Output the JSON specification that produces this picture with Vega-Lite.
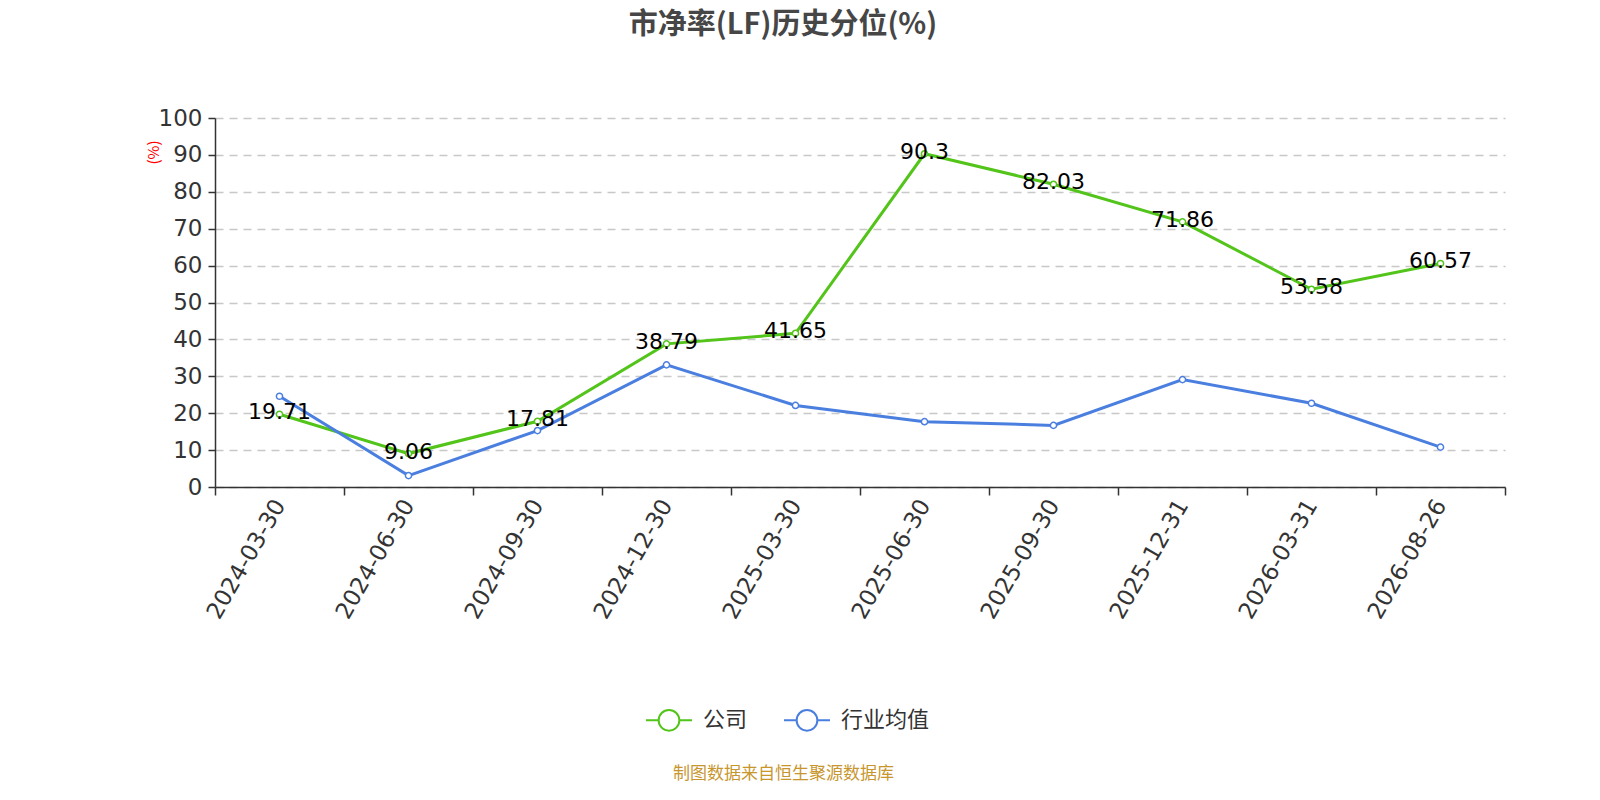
{
  "$schema": "https://vega.github.io/schema/vega-lite/v6.json",
  "autosize": "none",
  "width": 1290,
  "height": 369,
  "padding": {"left": 215, "top": 118, "right": 95, "bottom": 313},
  "background": "white",
  "config": {
    "font": "Noto Sans CJK SC",
    "view": {"stroke": null}
  },
  "title": {
    "text": "市净率(LF)历史分位(%)",
    "fontSize": 29,
    "fontWeight": "bold",
    "color": "#464646",
    "anchor": "middle",
    "frame": "group",
    "dx": -77,
    "offset": 67
  },
  "data": {
    "values": [
      {"date": "2024-03-30", "series": "公司", "value": 19.71},
      {"date": "2024-06-30", "series": "公司", "value": 9.06},
      {"date": "2024-09-30", "series": "公司", "value": 17.81},
      {"date": "2024-12-30", "series": "公司", "value": 38.79},
      {"date": "2025-03-30", "series": "公司", "value": 41.65},
      {"date": "2025-06-30", "series": "公司", "value": 90.3},
      {"date": "2025-09-30", "series": "公司", "value": 82.03},
      {"date": "2025-12-31", "series": "公司", "value": 71.86},
      {"date": "2026-03-31", "series": "公司", "value": 53.58},
      {"date": "2026-08-26", "series": "公司", "value": 60.57},
      {"date": "2024-03-30", "series": "行业均值", "value": 24.6},
      {"date": "2024-06-30", "series": "行业均值", "value": 3.1},
      {"date": "2024-09-30", "series": "行业均值", "value": 15.3},
      {"date": "2024-12-30", "series": "行业均值", "value": 33.1},
      {"date": "2025-03-30", "series": "行业均值", "value": 22.1},
      {"date": "2025-06-30", "series": "行业均值", "value": 17.7},
      {"date": "2025-09-30", "series": "行业均值", "value": 16.7},
      {"date": "2025-12-31", "series": "行业均值", "value": 29.1},
      {"date": "2026-03-31", "series": "行业均值", "value": 22.7},
      {"date": "2026-08-26", "series": "行业均值", "value": 10.8}
    ]
  },
  "encoding": {
    "x": {
      "field": "date",
      "type": "nominal",
      "sort": null,
      "bandPosition": 0.5,
      "scale": {"type": "band", "paddingInner": 0, "paddingOuter": 0},
      "axis": {
        "tickBand": "extent",
        "labelAngle": -60,
        "labelAlign": "right",
        "labelBaseline": "middle",
        "labelFontSize": 23,
        "labelColor": "#333333",
        "labelPadding": 6,
        "labelFont": "DejaVu Sans",
        "domainColor": "#333333",
        "domainWidth": 1.5,
        "tickColor": "#333333",
        "tickSize": 8,
        "tickWidth": 1.5,
        "grid": false,
        "title": "制图数据来自恒生聚源数据库",
        "titleX": 568,
        "titleY": 286,
        "titleAlign": "center",
        "titleBaseline": "middle",
        "titleAnchor": null,
        "titleColor": "#c8962e",
        "titleFontSize": 17,
        "titleFontWeight": "normal"
      }
    },
    "y": {
      "field": "value",
      "type": "quantitative",
      "scale": {"domain": [0, 100], "nice": false},
      "axis": {
        "values": [0, 10, 20, 30, 40, 50, 60, 70, 80, 90, 100],
        "labelFontSize": 23,
        "labelColor": "#333333",
        "labelFont": "DejaVu Sans",
        "labelPadding": 6,
        "domainColor": "#333333",
        "domainWidth": 1.5,
        "tickColor": "#333333",
        "tickSize": 7,
        "tickWidth": 1.5,
        "gridColor": "#c8c8c8",
        "gridDash": [8, 6],
        "gridWidth": 1.5,
        "title": "(%)",
        "titleColor": "#ff0000",
        "titleFontSize": 15,
        "titleFontWeight": "normal",
        "titleX": -62,
        "titleY": 34,
        "titleAlign": "center",
        "titleBaseline": "middle",
        "titleAnchor": null
      }
    },
    "color": {
      "field": "series",
      "type": "nominal",
      "sort": ["公司", "行业均值"],
      "scale": {"domain": ["公司", "行业均值"], "range": ["#52c41a", "#4a7fe0"]},
      "legend": {
        "orient": "none",
        "legendX": 430,
        "legendY": 578,
        "direction": "horizontal",
        "title": null,
        "labelFontSize": 22,
        "labelColor": "#333333",
        "labelOffset": 10,
        "columnPadding": 32,
        "symbolType": "M-1,0L-0.45,0M0.45,0L1,0M-0.45,0A0.45,0.45,0,1,0,0.45,0A0.45,0.45,0,1,0,-0.45,0",
        "symbolSize": 2116,
        "symbolStrokeWidth": 2,
        "symbolFillColor": "white",
        "encode": {
          "symbols": {
            "update": {
              "shape": {"value": "M-1,0L-0.45,0M0.45,0L1,0M-0.45,0A0.45,0.45,0,1,0,0.45,0A0.45,0.45,0,1,0,-0.45,0"},
              "size": {"value": 2116},
              "fill": {"value": "white"},
              "fillOpacity": {"value": 1},
              "opacity": {"value": 1},
              "strokeWidth": {"value": 2},
              "stroke": {"scale": "color", "field": "value"}
            }
          }
        }
      }
    }
  },
  "layer": [
    {
      "mark": {"type": "line", "strokeWidth": 3}
    },
    {
      "mark": {"type": "point", "filled": false, "fill": "white", "size": 38, "strokeWidth": 1.5, "opacity": 1}
    },
    {
      "transform": [{"filter": "datum.series === '公司'"}],
      "mark": {"type": "text", "fontSize": 22, "font": "DejaVu Sans", "color": "#000000", "baseline": "middle", "dy": -2},
      "encoding": {
        "text": {"field": "value", "type": "quantitative"},
        "color": {"value": "#000000"}
      }
    }
  ]
}
